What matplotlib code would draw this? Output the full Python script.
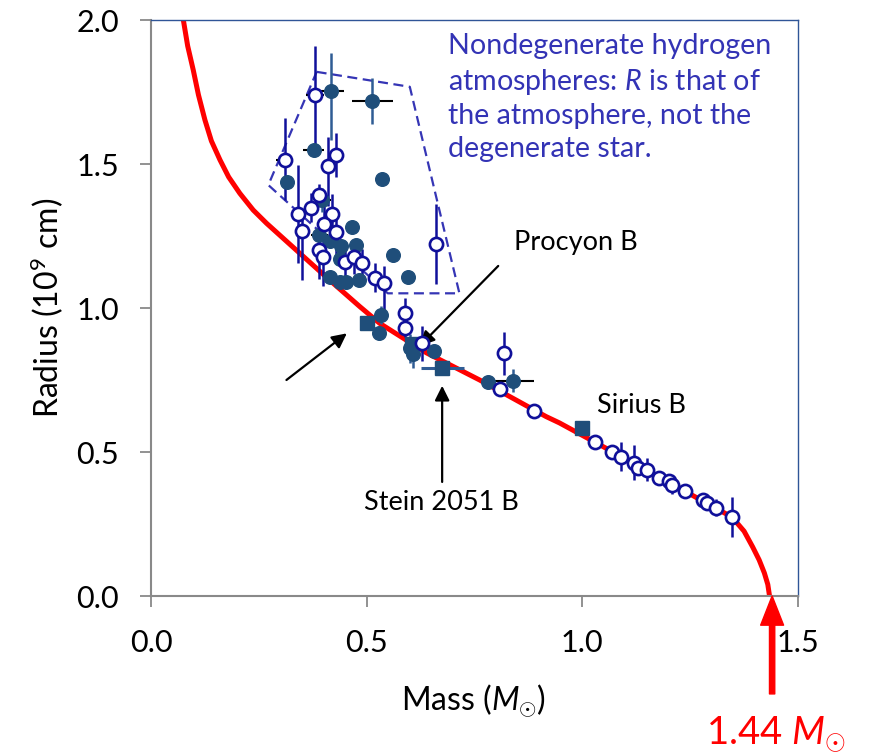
import numpy as np
import matplotlib
matplotlib.use("Agg")
import matplotlib.pyplot as plt

plt.rcParams['font.family'] = ['Lato', 'DejaVu Sans']
plt.rcParams['mathtext.fontset'] = 'custom'
plt.rcParams['mathtext.rm'] = 'Lato'
plt.rcParams['mathtext.it'] = 'Lato:italic'

# theoretical mass-radius relation
curve_mass = [0.075, 0.085, 0.098, 0.110, 0.125, 0.140, 0.160, 0.180, 0.206, 0.237,
              0.268, 0.345, 0.414, 0.484, 0.530, 0.639, 0.762, 0.916, 0.947, 1.178,
              1.347, 1.375, 1.395, 1.410, 1.422, 1.430, 1.434]
curve_rad = [2.000, 1.910, 1.826, 1.740, 1.653, 1.580, 1.514, 1.455, 1.398, 1.340,
             1.294, 1.190, 1.097, 1.005, 0.947, 0.844, 0.750, 0.623, 0.601, 0.413,
             0.274, 0.225, 0.170, 0.125, 0.080, 0.040, 0.000]

# open circles: mass, radius, radius err (low, high), mass err
open_mass = [0.380, 0.310, 0.430, 0.410, 0.390, 0.370, 0.340, 0.420, 0.350, 0.400,
             0.430, 0.390, 0.399, 0.449, 0.470, 0.489, 0.520, 0.540, 0.660,
             0.590, 0.590, 0.629, 0.819, 0.809, 0.889, 1.030, 1.069, 1.090, 1.120,
             1.130, 1.149, 1.178, 1.201, 1.209, 1.238, 1.279, 1.290, 1.309, 1.348]
open_rad = [1.740, 1.514, 1.531, 1.494, 1.392, 1.348, 1.326, 1.325, 1.268, 1.292,
            1.263, 1.201, 1.176, 1.159, 1.178, 1.155, 1.105, 1.086, 1.222,
            0.984, 0.930, 0.877, 0.843, 0.719, 0.643, 0.534, 0.499, 0.484, 0.463,
            0.446, 0.438, 0.411, 0.399, 0.385, 0.366, 0.333, 0.324, 0.307, 0.275]
open_rlo = [0.19, 0.14, 0.075, 0.14, 0.04, 0.05, 0.17, 0.07, 0.17, 0.10,
            0.08, 0.10, 0.10, 0.06, 0.06, 0.05, 0.05, 0.12, 0.14,
            0.03, 0.03, 0.06, 0.075, 0.0, 0.0, 0.02, 0.0, 0.05, 0.06,
            0.0, 0.04, 0.0, 0.0, 0.03, 0.0, 0.0, 0.0, 0.03, 0.07]
open_rhi = [0.17, 0.145, 0.075, 0.10, 0.04, 0.05, 0.17, 0.07, 0.07, 0.08,
            0.08, 0.10, 0.10, 0.06, 0.06, 0.05, 0.05, 0.06, 0.14,
            0.05, 0.03, 0.06, 0.075, 0.0, 0.0, 0.02, 0.0, 0.05, 0.06,
            0.0, 0.04, 0.0, 0.0, 0.03, 0.0, 0.0, 0.0, 0.03, 0.07]
open_merr = [0.02, 0.02, 0.015, 0.0, 0.015, 0.015, 0.015, 0.015, 0.015, 0.015,
             0.0, 0.0, 0.0, 0.0, 0.0, 0.0, 0.0, 0.0, 0.0,
             0.0, 0.0, 0.0, 0.0, 0.0, 0.0, 0.0, 0.0, 0.0, 0.0,
             0.0, 0.0, 0.0, 0.0, 0.0, 0.0, 0.0, 0.0, 0.0, 0.0]

# filled circles
fill_mass = [0.417, 0.513, 0.377, 0.316, 0.535, 0.397, 0.466, 0.390, 0.414, 0.441,
             0.476, 0.439, 0.561, 0.596, 0.414, 0.4375, 0.451, 0.482, 0.534, 0.529,
             0.600, 0.607, 0.657, 0.781, 0.839]
fill_rad = [1.755, 1.720, 1.549, 1.439, 1.447, 1.375, 1.280, 1.253, 1.234, 1.215,
            1.218, 1.169, 1.184, 1.109, 1.107, 1.091, 1.091, 1.097, 0.976, 0.912,
            0.860, 0.840, 0.852, 0.744, 0.747]
fill_rlo = [0.17, 0.08, 0.0, 0.0, 0.0, 0.04, 0.0, 0.0, 0.0, 0.0,
            0.0, 0.0, 0.0, 0.0, 0.0, 0.0, 0.0, 0.0, 0.03, 0.0,
            0.05, 0.05, 0.0, 0.0, 0.04]
fill_rhi = [0.13, 0.08, 0.0, 0.0, 0.0, 0.04, 0.0, 0.0, 0.0, 0.0,
            0.0, 0.0, 0.0, 0.0, 0.0, 0.0, 0.0, 0.0, 0.03, 0.0,
            0.05, 0.05, 0.0, 0.0, 0.04]
fill_merr = [0.03, 0.047, 0.025, 0.0, 0.0, 0.02, 0.0, 0.02, 0.0, 0.0,
             0.0, 0.0, 0.0, 0.0, 0.0, 0.0, 0.0, 0.0, 0.0, 0.0,
             0.0, 0.0, 0.0, 0.0, 0.05]

# filled squares (40 Eri B, Procyon B, Stein 2051 B, Sirius B)
sq_mass = [0.501, 0.604, 0.675, 0.999]
sq_rad = [0.949, 0.875, 0.793, 0.582]
sq_merr = [0.0, 0.0, 0.05, 0.0]

# region of nondegenerate atmospheres
poly_mass = [0.384, 0.600, 0.661, 0.715, 0.549, 0.272, 0.384]
poly_rad = [1.820, 1.768, 1.387, 1.051, 1.051, 1.427, 1.820]

open_col = '#10109A'
fill_col = '#1F4E7A'
txt_blue = '#3333B5'

fig = plt.figure(figsize=(8.69, 7.53), dpi=100)
ax = fig.add_axes([151/869, 1 - 596/753, 647/869, 576/753])

ax.plot(curve_mass, curve_rad, color='red', lw=3.6, zorder=2, solid_capstyle='butt')
ax.plot(poly_mass, poly_rad, color='#3535B5', lw=1.6, ls=(0, (4.5, 2.5)), zorder=1)

ax.errorbar(open_mass, open_rad, yerr=[open_rlo, open_rhi], fmt='none',
            ecolor=open_col, elinewidth=1.8, capsize=0, zorder=3)
ax.errorbar(open_mass, open_rad, xerr=open_merr, fmt='none',
            ecolor='black', elinewidth=1.5, capsize=0, zorder=3)
ax.errorbar(fill_mass, fill_rad, yerr=[fill_rlo, fill_rhi], fmt='none',
            ecolor='#2F5C94', elinewidth=1.8, capsize=0, zorder=3)
ax.errorbar(fill_mass, fill_rad, xerr=fill_merr, fmt='none',
            ecolor='black', elinewidth=1.5, capsize=0, zorder=3)
ax.errorbar(sq_mass, sq_rad, xerr=sq_merr, fmt='none',
            ecolor='#2F5C94', elinewidth=2.2, capsize=0, zorder=3)

ax.plot(fill_mass, fill_rad, 'o', color=fill_col, ms=9.8, mec=fill_col, zorder=4)
ax.plot(sq_mass, sq_rad, 's', color=fill_col, ms=9.8, mec=fill_col, zorder=4)
ax.plot(open_mass, open_rad, 'o', mfc='white', mec=open_col, mew=1.9, ms=9.5, zorder=5)

ax.set_xlim(0, 1.5)
ax.set_ylim(0, 2.0)
ax.set_xticks([0.0, 0.5, 1.0, 1.5])
ax.set_yticks([0.0, 0.5, 1.0, 1.5, 2.0])
ax.set_xticklabels(['0.0', '0.5', '1.0', '1.5'])
ax.set_yticklabels(['0.0', '0.5', '1.0', '1.5', '2.0'])
ax.tick_params(direction='out', length=8, width=1.3, color='#898989', labelsize=22)
ax.tick_params(axis='x', pad=16)
ax.tick_params(axis='y', pad=15)
for s in ['left', 'bottom']:
    ax.spines[s].set_color('#898989')
    ax.spines[s].set_linewidth(1.5)
for s in ['top', 'right']:
    ax.spines[s].set_color('#2F5597')
    ax.spines[s].set_linewidth(1.0)

ax.set_xlabel(r'Mass ($M_{\odot}$)', fontsize=23, va='center')
ax.xaxis.set_label_coords(0.499, -0.181)
ax.set_ylabel(r'Radius (10$^{9}$ cm)', fontsize=23, va='center')
ax.yaxis.set_label_coords(-0.161, 0.5)

ax.text(0.688, 1.955, 'Nondegenerate hydrogen\natmospheres: $R$ is that of\nthe atmosphere, not the\ndegenerate star.',
        color=txt_blue, fontsize=20.6, ha='left', va='top', linespacing=1.33)

ax.text(0.986, 1.229, 'Procyon B', fontsize=19.5, ha='center', va='center')
ax.text(1.137, 0.663, 'Sirius B', fontsize=19.5, ha='center', va='center')
ax.text(0.674, 0.323, 'Stein 2051 B', fontsize=19.5, ha='center', va='center')

black_arrow = dict(arrowstyle='-|>', color='black', lw=1.6, mutation_scale=22,
                   shrinkA=0, shrinkB=0)
ax.annotate('', xy=(0.623, 0.868), xytext=(0.805, 1.146), arrowprops=black_arrow)
ax.annotate('', xy=(0.454, 0.912), xytext=(0.314, 0.750), arrowprops=black_arrow)
ax.annotate('', xy=(0.675, 0.73), xytext=(0.675, 0.396), arrowprops=black_arrow)

ax.annotate('', xy=(1.44, 0.0), xytext=(1.44, -0.34), annotation_clip=False,
            arrowprops=dict(width=3.8, headwidth=16.5, headlength=21, shrink=0.0,
                            color='red'))
ax.text(1.449, -0.476, r'1.44 $M_{\odot}$', color='red', fontsize=27.5,
        ha='center', va='center', clip_on=False)

fig.savefig('out.png', dpi=100)
